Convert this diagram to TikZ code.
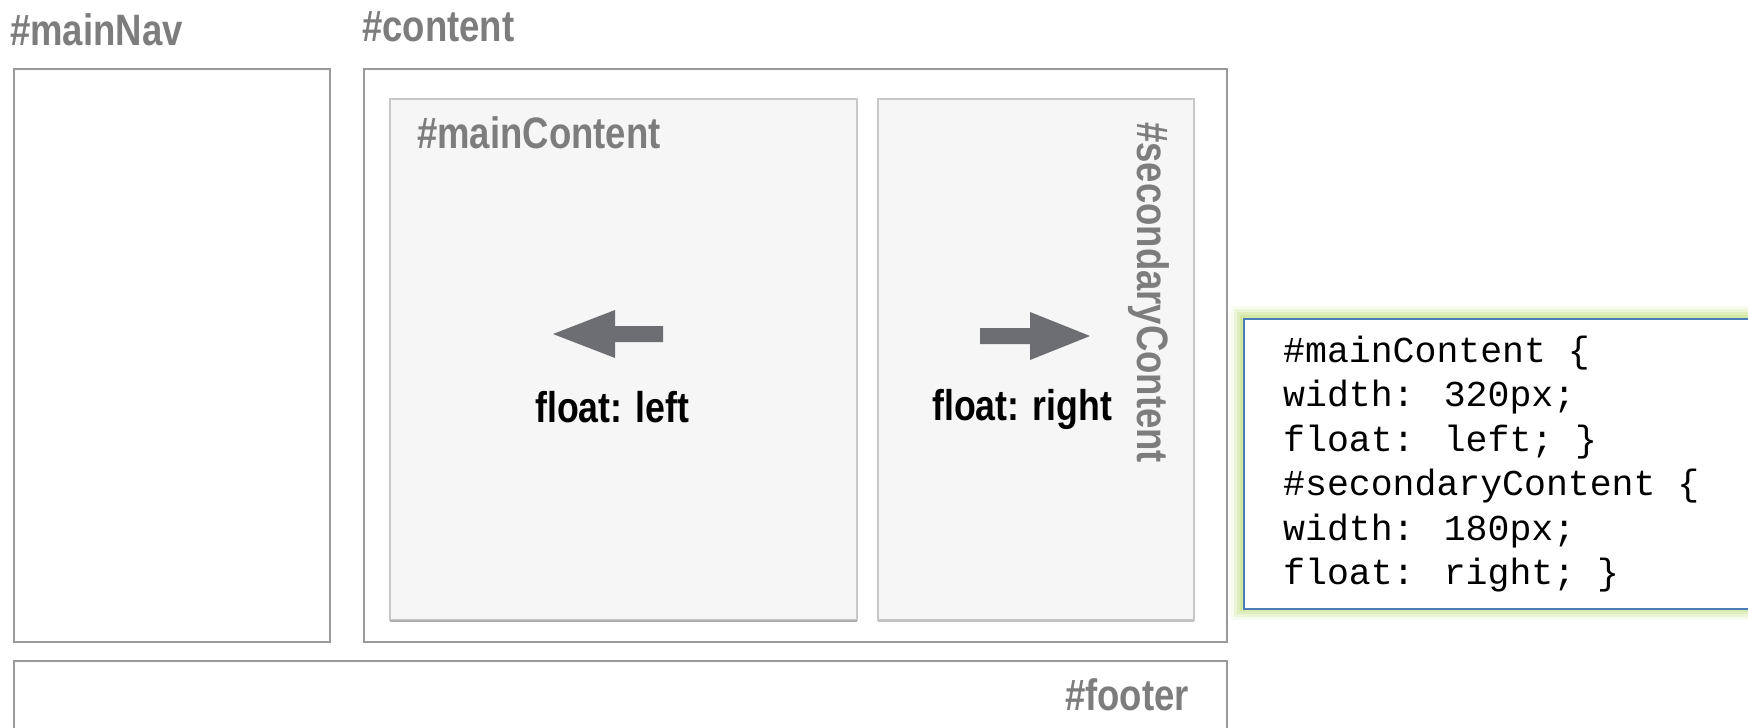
\documentclass[tikz,border=0pt]{standalone}
\usepackage{fontspec}
\newfontfamily\labelfont[FakeStretch=0.83]{Liberation Sans}
\newfontfamily\codefont{Liberation Mono}
\definecolor{lblgray}{HTML}{7D7D7D}
\definecolor{boxgray}{HTML}{9A9A9A}
\definecolor{innergray}{HTML}{C8C8C8}
\definecolor{innerfill}{HTML}{F6F6F6}
\definecolor{arrowgray}{HTML}{6D6E71}
\definecolor{codeblue}{HTML}{4A7EBB}
\definecolor{glowgreen}{HTML}{C8E38A}
\tikzset{
  outerbox/.style={draw=boxgray, line width=2pt, fill=white, inner sep=0pt, anchor=north west},
  innerbox/.style={draw=innergray, line width=2pt, fill=innerfill, inner sep=0pt, anchor=north west},
  lbl/.style={inner sep=0pt, text=lblgray, font=\labelfont\bfseries\fontsize{44}{52}\selectfont},
  floatlbl/.style={inner sep=0pt, text=black, font=\labelfont\bfseries\fontsize{43}{52}\selectfont},
  codeline/.style={inner sep=0pt, anchor=base west, text=black, font=\codefont\fontsize{36.5}{44.5}\selectfont},
  arrowfill/.style={fill=arrowgray}
}
\begin{document}
\begin{tikzpicture}[x=1pt,y=-1pt]
\useasboundingbox (0,0) rectangle (1748,728);
\clip (0,0) rectangle (1748,728);
\fill[white] (0,0) rectangle (1748,728);
% outer boxes
\node[outerbox, minimum width=316pt, minimum height=573pt] (nav) at (13,68) {};
\node[outerbox, minimum width=863pt, minimum height=573pt] (content) at (363,68) {};
\node[outerbox, minimum width=1213pt, minimum height=120pt] (footer) at (13,660) {};
% inner boxes
\node[innerbox, minimum width=467pt, minimum height=521pt] (main) at (389,98) {};
\node[innerbox, minimum width=316pt, minimum height=521pt] (second) at (877,98) {};
\draw[boxgray!80, line width=1.5pt] ([xshift=1pt]main.south west) -- ([xshift=-1pt]main.south east);
\draw[boxgray!60, line width=1.5pt] ([xshift=1pt]second.south west) -- ([xshift=-1pt]second.south east);
% labels
\node[lbl, anchor=base west] (navlbl) at (10,45) {\#mainNav};
\node[lbl, anchor=base west] (contentlbl) at (362,41) {\#content};
\node[lbl, anchor=base west] (mainlbl) at (417,148) {\#mainContent};
\node[lbl, anchor=base west, rotate=-90] (secondlbl) at (1137,122) {\#secondaryContent};
\node[lbl, anchor=base east] (footerlbl) at (1189,710) {\#footer};
% arrows
\fill[arrowfill] (553,334) -- (615,310) -- (615,326) -- (663,326) -- (663,342) -- (615,342) -- (615,358) -- cycle;
\fill[arrowfill] (1090,336) -- (1030,312) -- (1030,328) -- (980,328) -- (980,344) -- (1030,344) -- (1030,360) -- cycle;
\node[floatlbl, anchor=base west] (leftlbl) at (535,422) {float: left};
\node[floatlbl, anchor=base west] (rightlbl) at (932,420) {float: right};
% code box with glow
\foreach \w/\o in {24/0.12,18/0.22,12/0.35,6/0.5}{
  \draw[glowgreen, line width=\w pt, opacity=\o] (1243,318) rectangle (1780,608);
}
\node[draw=codeblue, line width=2pt, fill=white, inner sep=0pt, anchor=north west, minimum width=537pt, minimum height=290pt] (code) at (1243,318) {};
\node[codeline] (c1) at (1283,362) {\#mainContent \{};
\node[codeline] (c2) at (1283,406.5) {width: 320px;};
\node[codeline] (c3) at (1283,451) {float: left; \}};
\node[codeline] (c4) at (1283,495.5) {\#secondaryContent \{};
\node[codeline] (c5) at (1283,540) {width: 180px;};
\node[codeline] (c6) at (1283,584.5) {float: right; \}};
\end{tikzpicture}
\end{document}
